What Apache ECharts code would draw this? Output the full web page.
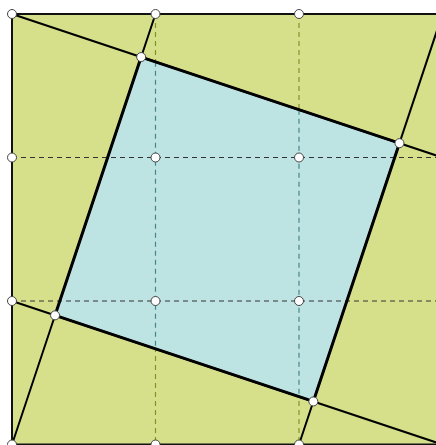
<!DOCTYPE html>
<html><head><meta charset="utf-8">
<script src="https://cdn.jsdelivr.net/npm/echarts@6/dist/echarts.min.js"></script>
<style>html,body{margin:0;padding:0;background:#fff}#c{width:436px;height:445px}</style>
</head><body><div id="c"></div>
<script>
// ---- data ----
const gridTicks = [0, 1, 2, 3];
const outerSquare = [[0, 0], [3, 0], [3, 3], [0, 3]];
const innerSquare = [[0.9, 0.3], [2.7, 0.9], [2.1, 2.7], [0.3, 2.1]];
const cutLines = [
  [[0, 0], [3, 1]],
  [[1, 0], [0, 3]],
  [[2, 3], [3, 0]],
  [[0, 2], [3, 3]]
];
const dashedRows = [1, 2];
const dashedCols = [1, 2];

// ---- helpers ----
function verticalSpanInPolygon(x, poly) {
  const ys = [];
  for (let i = 0; i < poly.length; i++) {
    const a = poly[i], b = poly[(i + 1) % poly.length];
    if ((a[0] - x) * (b[0] - x) <= 0 && a[0] !== b[0]) {
      const t = (x - a[0]) / (b[0] - a[0]);
      ys.push(a[1] + t * (b[1] - a[1]));
    }
  }
  return [Math.min.apply(null, ys), Math.max.apply(null, ys)];
}

const GREEN = '#d6e08b', BLUE = '#bee3e3';
const series = [];

function polySeries(pts, color, z) {
  return {
    type: 'custom', z: z, clip: false, silent: true,
    data: [0],
    renderItem: function (params, api) {
      return { type: 'polygon', shape: { points: pts.map(p => api.coord(p)) }, style: { fill: color } };
    }
  };
}
function lineSeries(data, color, width, type, z) {
  return {
    type: 'line', data: data, symbol: 'none', z: z, silent: true, clip: false,
    lineStyle: { color: color, width: width, type: type, cap: 'butt', join: 'miter' },
    animation: false
  };
}

series.push(polySeries(outerSquare, GREEN, 1));
dashedCols.forEach(x => series.push(lineSeries([[x, 0], [x, 3]], '#7f9426', 1.2, [5, 4], 2)));
series.push(polySeries(innerSquare, BLUE, 3));
dashedCols.forEach(x => {
  const s = verticalSpanInPolygon(x, innerSquare);
  series.push(lineSeries([[x, s[0]], [x, s[1]]], '#46858c', 1.2, [5, 4], 4));
});
dashedRows.forEach(y => series.push(lineSeries([[0, y], [3, y]], '#333', 1.1, [5, 4], 5)));
cutLines.forEach(l => series.push(lineSeries(l, '#000', 2, 'solid', 6)));
series.push(lineSeries(outerSquare.concat([outerSquare[0]]), '#111', 2, 'solid', 6));
series.push(lineSeries(innerSquare.concat([innerSquare[0]]), '#000', 3, 'solid', 7));
const pts = [];
gridTicks.forEach(y => gridTicks.forEach(x => {
  if (x === 0 || x === 3 || y === 0 || y === 3 || ((x === 1 || x === 2) && (y === 1 || y === 2))) pts.push([x, y]);
}));
innerSquare.forEach(p => pts.push(p));
series.push({
  type: 'scatter', data: pts, symbol: 'circle', symbolSize: 9, z: 10, silent: true, clip: false,
  itemStyle: { color: '#fff', borderColor: '#444', borderWidth: 1, opacity: 1 }
});

const chart = echarts.init(document.getElementById('c'), null, { renderer: 'canvas' });
chart.setOption({
  animation: false,
  backgroundColor: '#fff',
  grid: { left: 12, top: 14, width: 430.5, height: 430.5, outerBoundsMode: 'none', containLabel: false },
  xAxis: { type: 'value', min: 0, max: 3, interval: 1, show: false },
  yAxis: { type: 'value', min: 0, max: 3, interval: 1, inverse: true, show: false },
  series: series
});
</script></body></html>
